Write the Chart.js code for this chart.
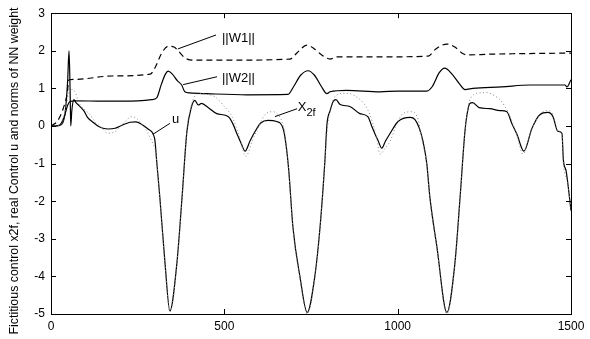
<!DOCTYPE html>
<html>
<head>
<meta charset="utf-8">
<script src="https://cdn.jsdelivr.net/npm/chart.js@4.4.0/dist/chart.umd.min.js"></script>
<style>
html, body { margin: 0; padding: 0; background: #fff; }
</style>
</head>
<body>
<canvas id="chart" width="590" height="339"></canvas>
<script>
// time axis and tick values
var xTicks = [0, 500, 1000, 1500];
var yTicks = [-5, -4, -3, -2, -1, 0, 1, 2, 3];

// real control u
var uT = [0, 25, 40, 48, 52, 55, 57, 60, 66, 72, 80, 95, 106, 121, 135, 150, 165, 185, 205, 228, 245, 262, 280, 295,
  300, 305, 314, 329, 343, 363, 378, 392, 405, 415, 425, 434, 455, 478, 511, 525, 536, 548, 560, 574, 589, 605, 626, 651,
  670, 678, 686, 698, 718, 739, 761, 776, 790, 796, 805, 814, 822, 834, 862, 891, 914, 925, 934, 944, 954, 965, 978,
  1001, 1036, 1050, 1062, 1073, 1084, 1093, 1113, 1142, 1165, 1180, 1194, 1200, 1208, 1216, 1235, 1266, 1295, 1315,
  1330, 1344, 1364, 1387, 1410, 1433, 1448, 1462, 1474, 1478, 1486, 1500];
var uV = [0, 0.02, 0.3, 1.2, 2.0, 1.0, 0.0, 0.4, 0.7, 0.62, 0.55, 0.4, 0.22, 0.1, 0.0, -0.06, -0.08, -0.06, 0.02, 0.1, 0.11, 0.04, -0.08, -0.22,
  -0.4, -0.95, -1.9, -3.66, -4.92, -3.66, -1.9, -0.15, 0.5, 0.68, 0.56, 0.6, 0.48, 0.33, 0.25, 0.05, -0.2, -0.45, -0.67, -0.4, -0.14, 0.08, 0.15, 0.12,
  -0.08, -0.5, -1.2, -2.7, -4.0, -4.96, -4.0, -2.7, -0.94, 0.04, 0.4, 0.65, 0.7, 0.57, 0.52, 0.33, 0.25, 0.0, -0.2, -0.4, -0.59, -0.4, -0.2,
  0.12, 0.23, 0.17, -0.05, -0.4, -1.0, -1.9, -3.2, -4.96, -3.66, -1.9, -0.15, 0.3, 0.6, 0.62, 0.49, 0.46, 0.41, 0.38,
  0.05, -0.22, -0.67, -0.07, 0.3, 0.36, 0.25, -0.14, -0.2, -0.9, -1.2, -2.25];

// fictitious control x2f
var xfT = [0, 30, 45, 55, 62, 69, 79, 95, 113, 128, 141, 165, 185, 210, 233, 247, 262, 276, 288, 295,
  302, 314, 329, 343, 363, 378, 392, 405, 415, 430, 450, 473, 496, 522, 535, 545, 562, 580, 600, 617, 640, 655, 666,
  676, 686, 698, 718, 739, 761, 776, 790, 798, 810, 825, 845, 862, 885, 905, 920, 929, 940, 949, 963, 978, 995, 1015,
  1041, 1059, 1070, 1084, 1093, 1113, 1142, 1165, 1180, 1194, 1203, 1218, 1240, 1257, 1280, 1295, 1318, 1335, 1344,
  1362, 1375, 1387, 1405, 1430, 1445, 1462, 1474, 1478, 1490, 1500];
var xfV = [0, 0.05, 0.6, 1.05, 0.95, 0.92, 0.65, 0.45, 0.3, 0.1, 0.0, -0.19, -0.15, 0.08, 0.25, 0.2, 0.05, -0.14, -0.35, -0.5,
  -0.7, -1.95, -3.7, -4.95, -3.7, -1.95, -0.1, 0.55, 0.8, 0.86, 0.84, 0.78, 0.56, 0.25, -0.05, -0.33, -0.81, -0.41, 0.0, 0.3, 0.38, 0.3, 0.12,
  -0.3, -1.25, -2.75, -4.05, -5.0, -4.05, -2.75, -0.94, 0.0, 0.6, 0.83, 0.87, 0.86, 0.75, 0.57, 0.3, 0.04, -0.35, -0.75, -0.6, -0.41, 0.0, 0.33,
  0.38, 0.17, -0.35, -1.05, -1.95, -3.25, -5.0, -3.7, -1.95, -0.15, 0.5, 0.83, 0.88, 0.89, 0.8, 0.7, 0.38, 0.0, -0.25,
  -0.75, -0.45, -0.1, 0.25, 0.41, 0.35, -0.14, -0.2, -1.0, -1.5, -2.2];

// norm of first layer weights ||W1||
var w1T = [0, 20, 35, 46, 52, 69, 176, 286, 300, 320, 338, 355, 367, 385, 410, 500, 689, 710, 738, 760, 781, 805, 824,
  978, 1088, 1110, 1142, 1165, 1189, 1200, 1266, 1500];
var w1V = [0, 0.15, 0.46, 0.83, 1.23, 1.24, 1.33, 1.38, 1.55, 1.95, 2.12, 2.1, 2.0, 1.82, 1.75, 1.75, 1.78, 1.95, 2.15, 2.05, 1.89, 1.78, 1.84,
  1.84, 1.86, 2.05, 2.18, 2.1, 1.92, 1.89, 1.91, 1.94];

// norm of second layer weights ||W2||
var w2T = [0, 20, 30, 40, 48, 55, 70, 150, 250, 290, 305, 318, 330, 338, 350, 365, 377, 386, 400, 450, 565, 683, 700, 720,
  742, 760, 780, 796, 805, 853, 949, 1000, 1084, 1100, 1120, 1136, 1155, 1180, 1194, 1217, 1300, 1382, 1483, 1488, 1500];
var w2V = [0, 0.0, 0.08, 0.3, 0.55, 0.65, 0.67, 0.66, 0.67, 0.7, 0.75, 1.1, 1.38, 1.46, 1.38, 1.2, 1.09, 0.91, 0.88, 0.86, 0.83, 0.84, 1.05, 1.35,
  1.47, 1.35, 1.05, 0.86, 0.91, 0.95, 0.91, 0.93, 0.93, 1.05, 1.42, 1.54, 1.4, 1.1, 0.97, 1.0, 1.04, 1.09, 1.09, 1.04, 1.23];

// text labels with leader lines (data coordinates)
var notes = [
  {text: '||W1||', at: [493, 2.34], from: [366, 2.05], to: [476, 2.42]},
  {text: '||W2||', at: [493, 1.26], from: [381, 1.10], to: [479, 1.31]},
  {text: 'u', at: [349, 0.17], from: [294, -0.22], to: [343, 0.07]},
  {text: 'X', sub: '2f', at: [712, 0.49], from: [646, 0.25], to: [710, 0.46]}
];
var yTitle = 'Fictitious control x2f, real Control u and norms of NN weight';

function pts(t, v) {
  return t.map(function (x, i) { return {x: x, y: v[i]}; });
}

var FONT = '"Liberation Sans", Arial, sans-serif';

var framePlugin = {
  id: 'frame',
  afterDatasetsDraw: function (chart) {
    var ctx = chart.ctx, a = chart.chartArea, x = chart.scales.x, y = chart.scales.y;
    ctx.save();
    ctx.strokeStyle = '#000';
    ctx.lineWidth = 1;
    ctx.strokeRect(Math.round(a.left) + 0.5, Math.round(a.top) + 0.5,
      Math.round(a.right - a.left), Math.round(a.bottom - a.top));
    ctx.beginPath();
    xTicks.forEach(function (v) {
      var px = Math.round(x.getPixelForValue(v)) + 0.5;
      ctx.moveTo(px, a.bottom); ctx.lineTo(px, a.bottom - 5);
      ctx.moveTo(px, a.top); ctx.lineTo(px, a.top + 5);
    });
    yTicks.forEach(function (v) {
      var py = Math.round(y.getPixelForValue(v)) + 0.5;
      ctx.moveTo(a.left, py); ctx.lineTo(a.left + 5, py);
      ctx.moveTo(a.right, py); ctx.lineTo(a.right - 5, py);
    });
    ctx.stroke();

    // notes
    ctx.fillStyle = '#000';
    ctx.textBaseline = 'middle';
    ctx.textAlign = 'left';
    notes.forEach(function (n) {
      ctx.beginPath();
      ctx.moveTo(x.getPixelForValue(n.from[0]), y.getPixelForValue(n.from[1]));
      ctx.lineTo(x.getPixelForValue(n.to[0]), y.getPixelForValue(n.to[1]));
      ctx.stroke();
      var tx = x.getPixelForValue(n.at[0]), ty = y.getPixelForValue(n.at[1]);
      ctx.font = '13px ' + FONT;
      ctx.fillText(n.text, tx, ty);
      if (n.sub) {
        var w = ctx.measureText(n.text).width;
        ctx.font = '11px ' + FONT;
        ctx.fillText(n.sub, tx + w, ty + 5);
      }
    });

    // y title
    ctx.font = '12.4px ' + FONT;
    ctx.textAlign = 'center';
    ctx.translate(15, 171);
    ctx.rotate(-Math.PI / 2);
    ctx.fillText(yTitle, 0, 0);
    ctx.restore();
  }
};

new Chart(document.getElementById('chart'), {
  type: 'line',
  data: {
    datasets: [
      {label: 'x2f', data: pts(xfT, xfV), borderColor: '#8a8a8a', borderWidth: 1, borderDash: [1, 2.5]},
      {label: 'u', data: pts(uT, uV), borderColor: '#000', borderWidth: 1.2},
      {label: 'W1', data: pts(w1T, w1V), borderColor: '#000', borderWidth: 1.2, borderDash: [6, 4]},
      {label: 'W2', data: pts(w2T, w2V), borderColor: '#000', borderWidth: 1.2}
    ]
  },
  options: {
    responsive: false,
    animation: false,
    layout: {padding: {top: 11, right: 19, left: 0, bottom: 0}},
    elements: {
      point: {radius: 0},
      line: {cubicInterpolationMode: 'monotone', fill: false}
    },
    plugins: {legend: {display: false}, tooltip: {enabled: false}},
    scales: {
      x: {
        type: 'linear', min: 0, max: 1500,
        afterFit: function (s) { s.height = 25; },
        afterBuildTicks: function (s) { s.ticks = xTicks.map(function (v) { return {value: v}; }); },
        grid: {display: false, drawTicks: false},
        border: {display: false},
        ticks: {padding: 5, color: '#000', font: {family: FONT, size: 12}, maxRotation: 0,
          callback: function (v) { return String(v); }}
      },
      y: {
        type: 'linear', min: -5, max: 3,
        afterFit: function (s) { s.width = 51; },
        afterBuildTicks: function (s) { s.ticks = yTicks.map(function (v) { return {value: v}; }); },
        grid: {display: false, drawTicks: false},
        border: {display: false},
        ticks: {padding: 6, color: '#000', font: {family: FONT, size: 12},
          callback: function (v) { return String(v); }}
      }
    }
  },
  plugins: [framePlugin]
});
</script>
</body>
</html>
